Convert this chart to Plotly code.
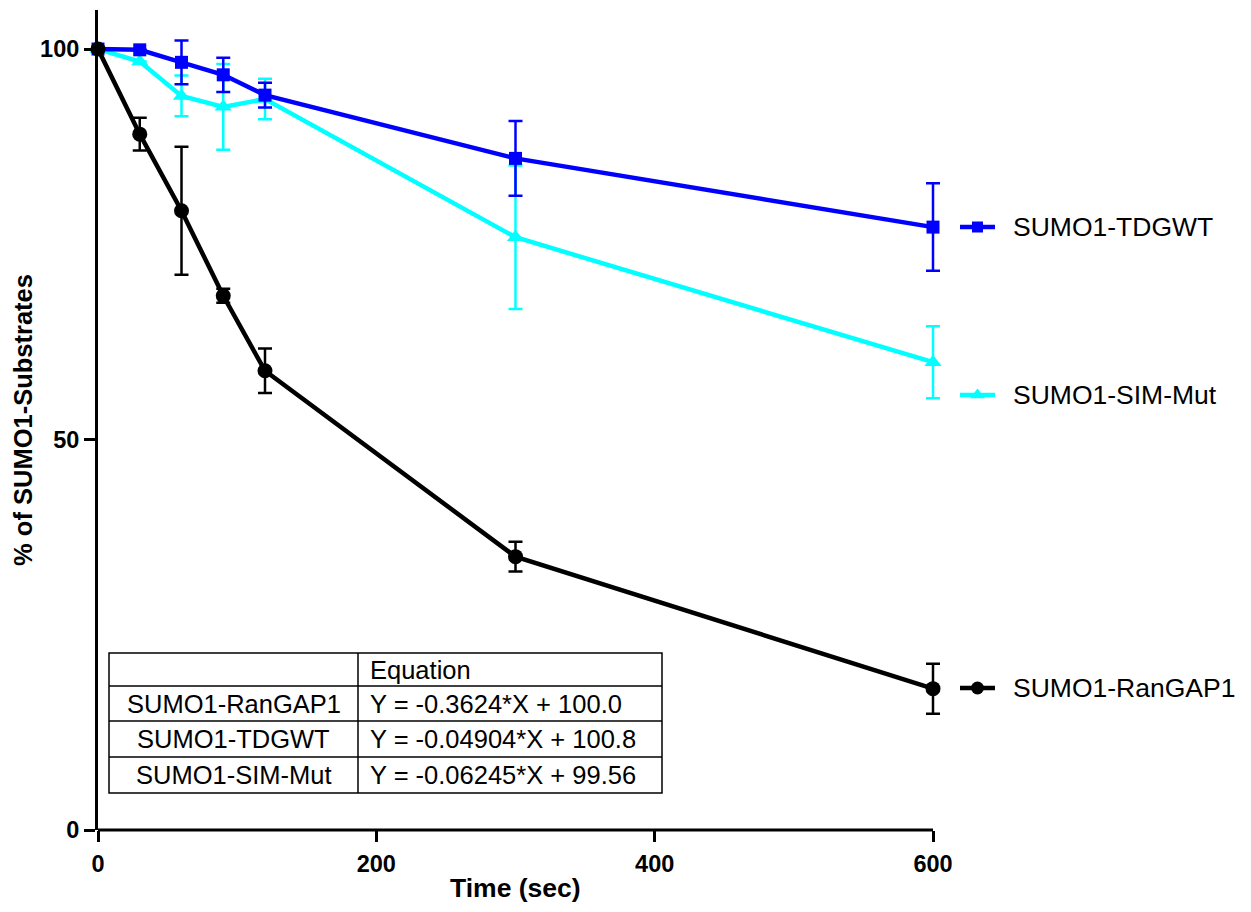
import plotly.graph_objects as go

# Time points (sec)
time_sec = [0, 30, 60, 90, 120, 300, 600]

# Remaining substrate (%) and SD per construct
rangap1_mean = [100.0, 89.1, 79.3, 68.4, 58.8, 35.0, 18.1]
rangap1_sd = [0.0, 2.1, 8.2, 0.9, 2.85, 1.9, 3.2]

tdgwt_mean = [100.0, 99.9, 98.3, 96.7, 94.1, 86.0, 77.2]
tdgwt_sd = [0.0, 0.0, 2.8, 2.2, 1.6, 4.8, 5.6]

simmut_mean = [100.0, 98.4, 94.0, 92.6, 93.6, 75.9, 59.9]
simmut_sd = [0.0, 0.0, 2.6, 5.5, 2.6, 9.2, 4.6]

series_names = ["SUMO1-RanGAP1", "SUMO1-TDGWT", "SUMO1-SIM-Mut"]
fit_equations = ["Y = -0.3624*X + 100.0", "Y = -0.04904*X + 100.8", "Y = -0.06245*X + 99.56"]

W, H = 1251, 912
L, T, B = 98, 10, 830          # plot area edges (px)
X600 = 933                     # pixel of the last x tick
R = 1000                       # right edge of the drawing area (px)
X_MAX = 600
Y_MAX = 105
x_per_px = X_MAX / (X600 - L)
x_hi = (R - L) * x_per_px
FONT = "Liberation Sans, Arial, Helvetica, sans-serif"


def px(xp):
    return (xp - L) / (R - L)


def py(yp):
    return (B - yp) / (B - T)


def xdata(xp):
    return (xp - L) * x_per_px


def ydata(yp):
    return (B - yp) * Y_MAX / (B - T)


fig = go.Figure()

styles = {
    "SUMO1-SIM-Mut": dict(color="#00FFFF", symbol="triangle-up", size=15),
    "SUMO1-TDGWT": dict(color="#0000FF", symbol="square", size=13),
    "SUMO1-RanGAP1": dict(color="#000000", symbol="circle", size=15),
}
data = {
    "SUMO1-RanGAP1": (rangap1_mean, rangap1_sd),
    "SUMO1-TDGWT": (tdgwt_mean, tdgwt_sd),
    "SUMO1-SIM-Mut": (simmut_mean, simmut_sd),
}

for name in ["SUMO1-SIM-Mut", "SUMO1-TDGWT", "SUMO1-RanGAP1"]:
    mean, sd = data[name]
    st = styles[name]
    fig.add_trace(go.Scatter(
        x=time_sec, y=mean, name=name, mode="lines+markers",
        line=dict(color=st["color"], width=4.5),
        marker=dict(color=st["color"], symbol=st["symbol"], size=st["size"],
                    line=dict(width=0)),
        error_y=dict(type="data", array=sd, visible=True, color=st["color"],
                     thickness=2.5, width=7),
        cliponaxis=False, showlegend=False,
    ))

# Legend entries to the right of the last points
legend_rows = {"SUMO1-TDGWT": 227, "SUMO1-SIM-Mut": 395, "SUMO1-RanGAP1": 688}
for name, yrow in legend_rows.items():
    st = styles[name]
    yv = ydata(yrow)
    fig.add_trace(go.Scatter(
        x=[xdata(960), xdata(995)], y=[yv, yv], mode="lines",
        line=dict(color=st["color"], width=4.5),
        cliponaxis=False, showlegend=False, hoverinfo="skip",
    ))
    fig.add_trace(go.Scatter(
        x=[xdata(977.5)], y=[yv], mode="markers",
        marker=dict(color=st["color"], symbol=st["symbol"], size=st["size"] - 2,
                    line=dict(width=0)),
        cliponaxis=False, showlegend=False, hoverinfo="skip",
    ))
    fig.add_annotation(x=px(1011), y=py(yrow), xref="paper", yref="paper",
                       text=name, showarrow=False, xanchor="left", yanchor="middle",
                       font=dict(family=FONT, size=26.5, color="#000000"))

# Bottom axis line stops at the last tick
shapes = [dict(type="line", xref="x", yref="paper", x0=0, x1=X_MAX, y0=0, y1=0,
               line=dict(color="#000000", width=3), layer="above")]

# Equation table
tx0, tx1, tx2 = 109, 358, 662
row_lines = [653, 686, 721, 757, 793]
shapes.append(dict(type="rect", xref="paper", yref="paper",
                   x0=px(tx0), x1=px(tx2), y0=py(row_lines[-1]), y1=py(row_lines[0]),
                   line=dict(color="#000000", width=1.5), fillcolor="white", layer="above"))
for yl in row_lines[1:-1]:
    shapes.append(dict(type="line", xref="paper", yref="paper",
                       x0=px(tx0), x1=px(tx2), y0=py(yl), y1=py(yl),
                       line=dict(color="#000000", width=1.5), layer="above"))
shapes.append(dict(type="line", xref="paper", yref="paper",
                   x0=px(tx1), x1=px(tx1), y0=py(row_lines[-1]), y1=py(row_lines[0]),
                   line=dict(color="#000000", width=1.5), layer="above"))
fig.update_layout(shapes=shapes)

TABLE_FONT = dict(family=FONT, size=25.5, color="#000000")
fig.add_annotation(x=px(368), y=py((row_lines[0] + row_lines[1]) / 2), xref="paper", yref="paper",
                   text="Equation", showarrow=False, xanchor="left", yanchor="middle",
                   font=TABLE_FONT)
for i, (nm, eq) in enumerate(zip(series_names, fit_equations)):
    yc = (row_lines[i + 1] + row_lines[i + 2]) / 2
    fig.add_annotation(x=px((tx0 + tx1) / 2), y=py(yc), xref="paper", yref="paper",
                       text=nm, showarrow=False, xanchor="center", yanchor="middle",
                       font=TABLE_FONT)
    fig.add_annotation(x=px(368), y=py(yc), xref="paper", yref="paper",
                       text=eq, showarrow=False, xanchor="left", yanchor="middle",
                       font=TABLE_FONT)

# x-axis title centred under the 0-600 span
fig.add_annotation(x=px((L + X600) / 2), y=py(888), xref="paper", yref="paper",
                   text="Time (sec)", showarrow=False, xanchor="center", yanchor="middle",
                   font=dict(family=FONT, size=26.5, color="#000000", weight="bold"))

axis_common = dict(
    showgrid=False, zeroline=False, linecolor="#000000", linewidth=3,
    ticks="outside", ticklen=11, tickwidth=3, tickcolor="#000000", automargin=False,
    tickfont=dict(family=FONT, size=23.5, color="#000000", weight="bold"),
)

fig.update_layout(
    width=W, height=H,
    margin=dict(l=L, r=W - R, t=T, b=H - B),
    paper_bgcolor="white", plot_bgcolor="white",
    xaxis=dict(range=[0, x_hi], tickvals=[0, 200, 400, 600], showline=False,
               ticklabelstandoff=2, **axis_common),
    yaxis=dict(range=[0, Y_MAX], tickvals=[0, 50, 100], showline=True,
               ticklabelstandoff=0,
               title=dict(text="% of SUMO1-Substrates", standoff=1,
                          font=dict(family=FONT, size=25.5, color="#000000", weight="bold")),
               **axis_common),
)

fig.write_html("out.html")
